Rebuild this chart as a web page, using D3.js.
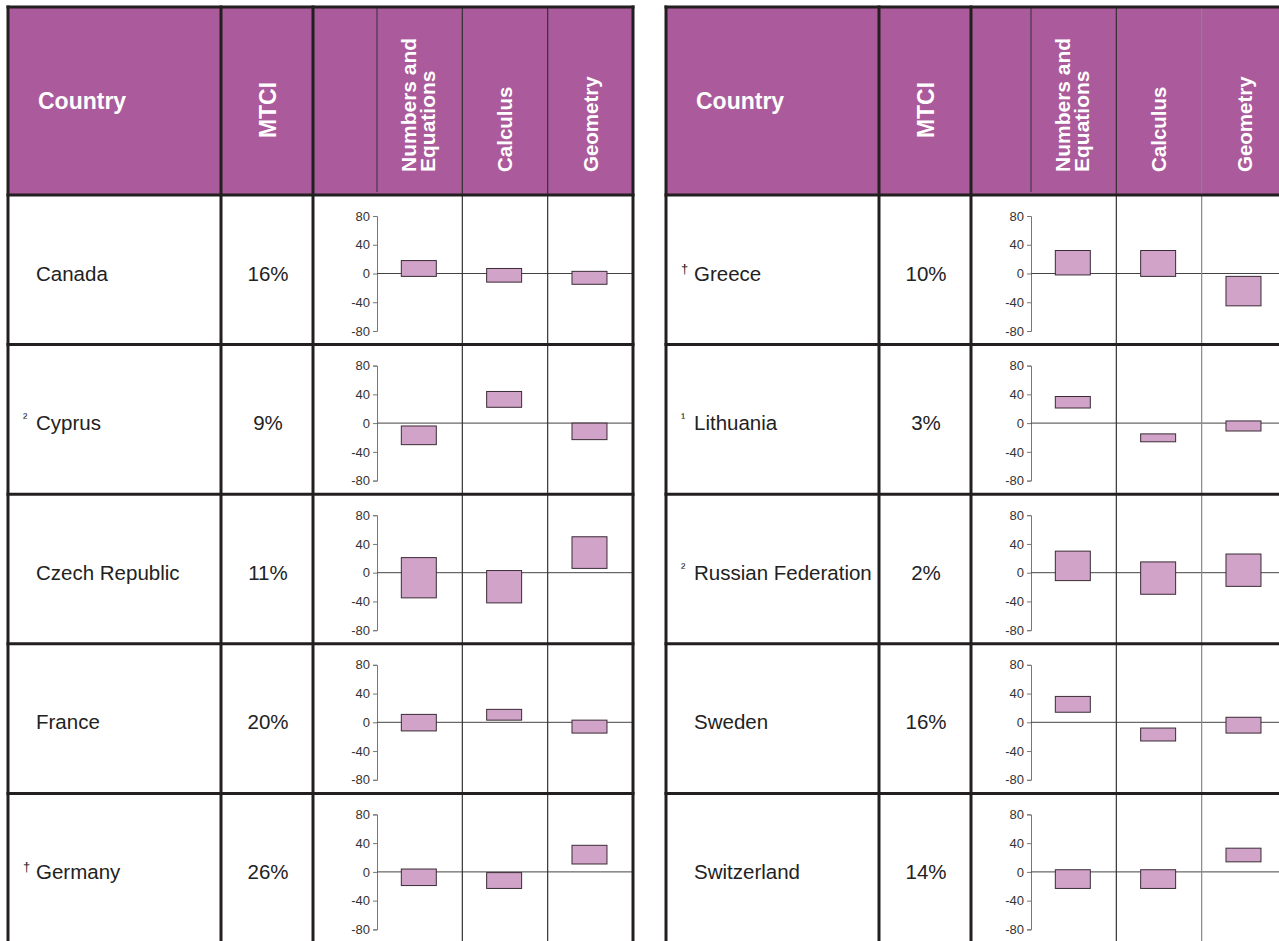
<!DOCTYPE html>
<html>
<head>
<meta charset="utf-8">
<script src="https://cdn.jsdelivr.net/npm/d3@7"></script>
<style>
  body { margin: 0; background: #fff; }
  text { font-family: "Liberation Sans", Arimo, sans-serif; }
</style>
</head>
<body>
<div id="viz"></div>
<script>
var countries = ["Canada", "Cyprus", "Czech Republic", "France", "Germany",
                 "Greece", "Lithuania", "Russian Federation", "Sweden", "Switzerland"];
var notes = ["", "²", "", "", "†", "†", "¹", "²", "", ""];
var mtci = [16, 9, 11, 20, 26, 10, 3, 2, 16, 14];
var subjects = ["Numbers and Equations", "Calculus", "Geometry"];
var numbersLow  = [-4, -30, -35, -12, -19, -2, 21, -11, 14, -23];
var numbersHigh = [18, -4, 21, 11, 4, 32, 37, 30, 36, 3];
var calculusLow  = [-12, 22, -42, 3, -23, -4, -26, -30, -26, -23];
var calculusHigh = [7, 44, 3, 18, -1, 32, -15, 15, -8, 3];
var geometryLow  = [-15, -23, 6, -15, 11, -45, -11, -19, -15, 14];
var geometryHigh = [3, 0, 50, 3, 37, -4, 3, 26, 7, 33];
var yTicks = [80, 40, 0, -40, -80];

var width = 1279, height = 941;
var svg = d3.select("#viz").append("svg").attr("width", width).attr("height", height);

var purple = "#ab5a9b", barFill = "#d1a3c9", dark = "#231f20";
var top0 = 7, headBottom = 195, rowH = 149.6;

// two tables side by side, 5 countries each
var panels = [
  { x0: 8, x1: 221, x2: 313, ax: 377, right: 633, rows: [0, 1, 2, 3, 4], thin: ["#333", "#333"] },
  { x0: 666, x1: 879, x2: 971, ax: 1031, right: 1287, rows: [5, 6, 7, 8, 9], thin: ["#333", "#888"] }
];

var lows = [numbersLow, calculusLow, geometryLow];
var highs = [numbersHigh, calculusHigh, geometryHigh];

panels.forEach(function(p) {
  var g = svg.append("g");

  var rowY = d3.scaleBand()
      .domain(d3.range(p.rows.length))
      .range([headBottom, headBottom + rowH * p.rows.length]);

  var x = d3.scaleBand()
      .domain(subjects)
      .range([p.ax, p.right]);

  // header
  g.append("rect")
      .attr("x", p.x0).attr("y", top0)
      .attr("width", p.right - p.x0).attr("height", headBottom - top0)
      .attr("fill", purple);

  g.append("text")
      .attr("x", p.x0 + 30).attr("y", 101)
      .attr("dy", "0.35em")
      .attr("fill", "#fff").attr("font-weight", "bold").attr("font-size", 23)
      .text("Country");

  g.append("text")
      .attr("transform", "translate(" + ((p.x1 + p.x2) / 2 + 1) + ",110) rotate(-90)")
      .attr("dy", "0.35em").attr("text-anchor", "middle")
      .attr("fill", "#fff").attr("font-weight", "bold").attr("font-size", 23)
      .text("MTCI");

  var cx0 = x(subjects[0]) + x.bandwidth() / 2;
  [["Numbers and", -11], ["Equations", 8]].forEach(function(l) {
    g.append("text")
        .attr("transform", "translate(" + (cx0 + l[1]) + ",172) rotate(-90)")
        .attr("dy", "0.35em")
        .attr("fill", "#fff").attr("font-weight", "bold").attr("font-size", 21)
        .text(l[0]);
  });
  subjects.slice(1).forEach(function(s) {
    g.append("text")
        .attr("transform", "translate(" + (x(s) + x.bandwidth() / 2) + ",172) rotate(-90)")
        .attr("dy", "0.35em")
        .attr("fill", "#fff").attr("font-weight", "bold").attr("font-size", 20.5)
        .text(s);
  });

  // body rows
  p.rows.forEach(function(ci, r) {
    var rt = rowY(r);
    var y = d3.scaleLinear().domain([-80, 80]).range([rt + 136, rt + 21]);

    if (notes[ci]) {
      g.append("text")
          .attr("x", p.x0 + 15).attr("y", y(0) - 1)
          .attr("font-size", 13).attr("fill", "#222")
          .text(notes[ci]);
    }
    g.append("text")
        .attr("x", p.x0 + 28).attr("y", y(0))
        .attr("dy", "0.35em")
        .attr("font-size", 20.5).attr("fill", "#222")
        .text(countries[ci]);

    g.append("text")
        .attr("x", (p.x1 + p.x2) / 2 + 1).attr("y", y(0))
        .attr("dy", "0.35em").attr("text-anchor", "middle")
        .attr("font-size", 20.5).attr("fill", "#222")
        .text(mtci[ci] + "%");

    var axis = g.append("g")
        .attr("transform", "translate(" + p.ax + ",0)")
        .call(d3.axisLeft(y).tickValues(yTicks).tickSize(4).tickSizeOuter(4).tickPadding(3)
          .tickFormat(function(d) { return String(d); }));
    axis.select(".domain").attr("stroke", "#777");
    axis.selectAll(".tick line").attr("stroke", "#777");
    axis.selectAll(".tick text")
        .attr("fill", "#333").attr("font-size", 13)
        .attr("font-family", "'Liberation Sans', Arimo, sans-serif");

    g.append("line")
        .attr("x1", p.ax).attr("x2", p.right)
        .attr("y1", y(0)).attr("y2", y(0))
        .attr("stroke", "#444").attr("stroke-width", 1);

    subjects.forEach(function(s, si) {
      var lo = lows[si][ci], hi = highs[si][ci];
      g.append("rect")
          .attr("x", x(s) + x.bandwidth() * 0.285)
          .attr("width", x.bandwidth() * 0.41)
          .attr("y", y(hi))
          .attr("height", y(lo) - y(hi))
          .attr("fill", barFill)
          .attr("stroke", "#3a2c36").attr("stroke-width", 1);
    });
  });

  // thin lines
  g.append("line")
      .attr("x1", p.ax).attr("x2", p.ax)
      .attr("y1", top0).attr("y2", headBottom - 3)
      .attr("stroke", "#333").attr("stroke-width", 1);
  subjects.slice(1).forEach(function(s, i) {
    g.append("line")
        .attr("x1", x(s)).attr("x2", x(s))
        .attr("y1", top0).attr("y2", height)
        .attr("stroke", p.thin[i]).attr("stroke-width", 1.2);
  });

  // thick borders
  [p.x0, p.x1, p.x2, p.right].forEach(function(xx) {
    g.append("line")
        .attr("x1", xx).attr("x2", xx)
        .attr("y1", top0 - 1.5).attr("y2", height)
        .attr("stroke", dark).attr("stroke-width", 3);
  });
  [top0].concat(d3.range(p.rows.length).map(function(r) { return rowY(r); })).forEach(function(yy) {
    g.append("line")
        .attr("x1", p.x0 - 1.5).attr("x2", p.right + 1.5)
        .attr("y1", yy).attr("y2", yy)
        .attr("stroke", dark).attr("stroke-width", 3);
  });
});
</script>
</body>
</html>
